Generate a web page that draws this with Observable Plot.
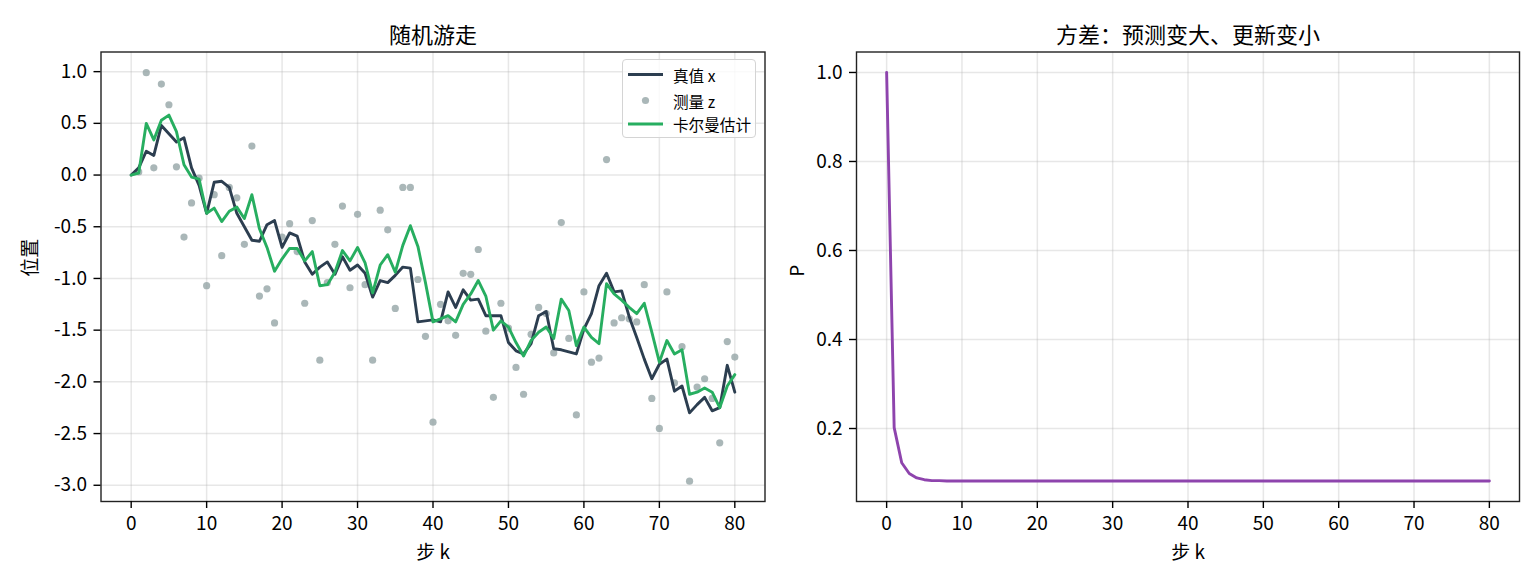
<!DOCTYPE html>
<html>
<head>
<meta charset="utf-8">
<script src="https://cdn.jsdelivr.net/npm/d3@7"></script>
<script src="https://cdn.jsdelivr.net/npm/@observablehq/plot@0.6"></script>
<style>
  html, body { margin: 0; padding: 0; background: #fff; }
  #wrap { position: relative; width: 1540px; height: 588px; font-family: "Noto Sans CJK SC", "Noto Sans", sans-serif; }
  #wrap > svg { position: absolute; top: 0; }
  .legend { position: absolute; left: 622px; top: 59px; width: 134px; height: 79px; box-sizing: border-box;
            border: 1px solid #d4d4d4; border-radius: 4px; background: rgba(255,255,255,0.8); }
  .legend svg { position: absolute; left: 0; top: 0; }
</style>
</head>
<body>
<div id="wrap"></div>
<script>
// ---- data ----
const steps = d3.range(81);

const trueX = [
   0.00, 0.07, 0.23, 0.19, 0.48, 0.40, 0.32, 0.36, 0.07,-0.10,
  -0.37,-0.07,-0.06,-0.12,-0.37,-0.50,-0.63,-0.64,-0.48,-0.44,
  -0.70,-0.56,-0.59,-0.84,-0.96,-0.89,-0.84,-0.96,-0.79,-0.92,
  -0.87,-0.95,-1.18,-1.02,-1.04,-0.97,-0.89,-0.90,-1.42,-1.41,
  -1.40,-1.42,-1.13,-1.28,-1.11,-1.21,-1.20,-1.36,-1.36,-1.36,
  -1.62,-1.70,-1.73,-1.63,-1.36,-1.32,-1.68,-1.69,-1.71,-1.73,
  -1.49,-1.34,-1.07,-0.95,-1.13,-1.12,-1.37,-1.57,-1.78,-1.97,
  -1.83,-1.78,-2.09,-2.04,-2.30,-2.22,-2.15,-2.28,-2.25,-1.84,
  -2.10
];

const measZ = [
   null, 0.03, 0.99, 0.07, 0.88, 0.68, 0.08,-0.60,-0.27,-0.03,
  -1.07,-0.19,-0.78,-0.12,-0.22,-0.67, 0.28,-1.17,-1.10,-1.43,
  -0.60,-0.47,-0.74,-1.24,-0.44,-1.79,-1.04,-0.67,-0.30,-1.09,
  -0.38,-1.06,-1.79,-0.34,-0.53,-1.29,-0.12,-0.12,-1.01,-1.56,
  -2.39,-1.25,-1.41,-1.55,-0.95,-0.96,-0.72,-1.51,-2.15,-1.24,
  -1.48,-1.86,-2.12,-1.54,-1.28,-1.34,-1.72,-0.46,-1.58,-2.32,
  -1.13,-1.81,-1.77, 0.15,-1.43,-1.38,-1.39,-1.42,-1.06,-2.16,
  -2.45,-1.13,-2.01,-1.66,-2.96,-2.05,-1.97,-2.16,-2.59,-1.61,
  -1.76
];

const kalmanEst = [
   0.00, 0.02, 0.50, 0.34, 0.53, 0.58, 0.42, 0.10,-0.02,-0.04,
  -0.37,-0.32,-0.45,-0.35,-0.31,-0.42,-0.19,-0.52,-0.70,-0.93,
  -0.81,-0.71,-0.71,-0.83,-0.74,-1.07,-1.06,-0.94,-0.73,-0.83,
  -0.70,-0.85,-1.14,-0.87,-0.77,-0.94,-0.68,-0.49,-0.69,-1.04,
  -1.42,-1.39,-1.36,-1.42,-1.25,-1.15,-1.02,-1.17,-1.50,-1.41,
  -1.47,-1.62,-1.75,-1.60,-1.52,-1.47,-1.58,-1.20,-1.31,-1.65,
  -1.47,-1.57,-1.63,-1.05,-1.15,-1.21,-1.28,-1.34,-1.24,-1.52,
  -1.81,-1.60,-1.73,-1.69,-2.12,-2.10,-2.06,-2.10,-2.25,-2.04,
  -1.93
];

const varP = [
  1.000,0.202,0.123,0.099,0.089,0.085,0.083,0.083,0.082,0.082,
  0.082,0.082,0.082,0.082,0.082,0.082,0.082,0.082,0.082,0.082,
  0.082,0.082,0.082,0.082,0.082,0.082,0.082,0.082,0.082,0.082,
  0.082,0.082,0.082,0.082,0.082,0.082,0.082,0.082,0.082,0.082,
  0.082,0.082,0.082,0.082,0.082,0.082,0.082,0.082,0.082,0.082,
  0.082,0.082,0.082,0.082,0.082,0.082,0.082,0.082,0.082,0.082,
  0.082,0.082,0.082,0.082,0.082,0.082,0.082,0.082,0.082,0.082,
  0.082,0.082,0.082,0.082,0.082,0.082,0.082,0.082,0.082,0.082,
  0.082
];

const xTicks = [0, 10, 20, 30, 40, 50, 60, 70, 80];
const yTicksLeft = [-3.0, -2.5, -2.0, -1.5, -1.0, -0.5, 0.0, 0.5, 1.0];
const yTicksRight = [0.2, 0.4, 0.6, 0.8, 1.0];

const titleLeft = "随机游走";
const titleRight = "方差：预测变大、更新变小";
const xLabel = "步 k";
const yLabelLeft = "位置";
const yLabelRight = "P";
const legendLabels = ["真值 x", "测量 z", "卡尔曼估计"];

const colTrue = "#2c3e50", colMeas = "#95a5a6", colKal = "#27ae60", colVar = "#8e44ad";

// ---- tables ----
const walk = steps.map((k, i) => ({k, x: trueX[i], z: measZ[i], est: kalmanEst[i]}));
const meas = walk.filter(d => d.z != null);
const pData = steps.map((k, i) => ({k, p: varP[i]}));

const fontFam = "'Noto Sans CJK SC', 'Noto Sans', sans-serif";
const gridStyle = {stroke: "#b0b0b0", strokeOpacity: 0.3, strokeWidth: 1.5};
const axisStyle = {tickSize: 7, tickPadding: 8, strokeWidth: 1.4, label: null, fontSize: 19};

const wrap = document.getElementById("wrap");

const left = Plot.plot({
  width: 770, height: 588,
  marginLeft: 100.5, marginRight: 5.5, marginTop: 51.5, marginBottom: 87,
  style: {fontFamily: fontFam, fontSize: "19px", color: "#000", background: "transparent", overflow: "visible"},
  x: {domain: [-4, 84]},
  y: {domain: [-3.157, 1.19]},
  marks: [
    Plot.gridX(xTicks, gridStyle),
    Plot.gridY(yTicksLeft, gridStyle),
    Plot.dot(meas, {x: "k", y: "z", r: 3.6, fill: colMeas, fillOpacity: 0.8, stroke: null}),
    Plot.line(walk, {x: "k", y: "x", stroke: colTrue, strokeWidth: 2.9}),
    Plot.line(walk, {x: "k", y: "est", stroke: colKal, strokeWidth: 2.9}),
    Plot.frame({stroke: "#222", strokeWidth: 1.4}),
    Plot.axisX(xTicks, {...axisStyle, tickFormat: d => String(d)}),
    Plot.axisY(yTicksLeft, {...axisStyle, tickPadding: 7, tickFormat: d => d.toFixed(1)}),
    Plot.text([titleLeft], {frameAnchor: "top", dy: -25, fontSize: 22, fill: "#000"}),
    Plot.text([xLabel], {frameAnchor: "bottom", dy: 57, fontSize: 19, fill: "#000"}),
    Plot.text([yLabelLeft], {frameAnchor: "left", dx: -70, rotate: -90, fontSize: 19, fill: "#000"})
  ]
});
left.style.left = "0px";
wrap.appendChild(left);

const right = Plot.plot({
  width: 770, height: 588,
  marginLeft: 86, marginRight: 21, marginTop: 51.5, marginBottom: 87,
  style: {fontFamily: fontFam, fontSize: "19px", color: "#000", background: "transparent", overflow: "visible"},
  x: {domain: [-4, 84]},
  y: {domain: [0.036, 1.046]},
  marks: [
    Plot.gridX(xTicks, gridStyle),
    Plot.gridY(yTicksRight, gridStyle),
    Plot.line(pData, {x: "k", y: "p", stroke: colVar, strokeWidth: 2.9}),
    Plot.frame({stroke: "#222", strokeWidth: 1.4}),
    Plot.axisX(xTicks, {...axisStyle, tickFormat: d => String(d)}),
    Plot.axisY(yTicksRight, {...axisStyle, tickPadding: 7, tickFormat: d => d.toFixed(1)}),
    Plot.text([titleRight], {frameAnchor: "top", dy: -25, fontSize: 22, fill: "#000"}),
    Plot.text([xLabel], {frameAnchor: "bottom", dy: 57, fontSize: 19, fill: "#000"}),
    Plot.text([yLabelRight], {frameAnchor: "left", dx: -59, rotate: -90, fontSize: 19, fill: "#000"})
  ]
});
right.style.left = "770px";
wrap.appendChild(right);

// ---- legend ----
const leg = document.createElement("div");
leg.className = "legend";
const ns = "http://www.w3.org/2000/svg";
const ls = document.createElementNS(ns, "svg");
ls.setAttribute("width", 134); ls.setAttribute("height", 79);
const rows = [14.5, 40.5, 64];
const kinds = [["line", colTrue], ["dot", colMeas], ["line", colKal]];
kinds.forEach(([kind, col], i) => {
  const y = rows[i];
  if (kind === "line") {
    const l = document.createElementNS(ns, "line");
    l.setAttribute("x1", 5); l.setAttribute("x2", 40);
    l.setAttribute("y1", y); l.setAttribute("y2", y);
    l.setAttribute("stroke", col); l.setAttribute("stroke-width", 2.9);
    ls.appendChild(l);
  } else {
    const c = document.createElementNS(ns, "circle");
    c.setAttribute("cx", 22.5); c.setAttribute("cy", y); c.setAttribute("r", 3.6);
    c.setAttribute("fill", col); c.setAttribute("fill-opacity", 0.8);
    ls.appendChild(c);
  }
  const t = document.createElementNS(ns, "text");
  t.setAttribute("x", 50); t.setAttribute("y", y);
  t.setAttribute("dominant-baseline", "central");
  t.setAttribute("font-size", 15.6);
  t.setAttribute("font-family", fontFam);
  t.setAttribute("fill", "#000");
  t.textContent = legendLabels[i];
  ls.appendChild(t);
});
leg.appendChild(ls);
wrap.appendChild(leg);
</script>
</body>
</html>
